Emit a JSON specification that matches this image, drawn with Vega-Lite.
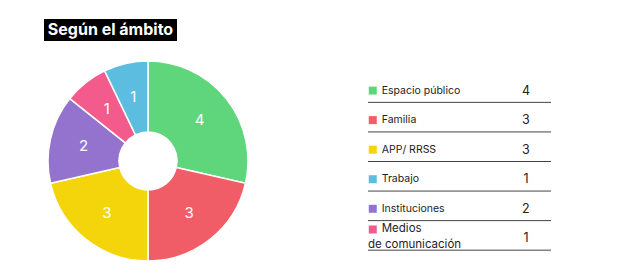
{
  "$schema": "https://vega.github.io/schema/vega-lite/v6.json",
  "padding": {"left": 44, "top": 19, "right": 0, "bottom": 0},
  "background": "white",
  "config": {"view": {"stroke": null}, "font": "Inter"},
  "datasets": {
    "ambitos": [
      {"ambito": "Espacio público", "casos": 4, "linea1": "Espacio público", "linea2": ""},
      {"ambito": "Familia", "casos": 3, "linea1": "Familia", "linea2": ""},
      {"ambito": "APP/ RRSS", "casos": 3, "linea1": "APP/ RRSS", "linea2": ""},
      {"ambito": "Instituciones", "casos": 2, "linea1": "Instituciones", "linea2": ""},
      {"ambito": "Medios de comunicación", "casos": 1, "linea1": "Medios", "linea2": "de comunicación"},
      {"ambito": "Trabajo", "casos": 1, "linea1": "Trabajo", "linea2": ""}
    ]
  },
  "vconcat": [
    {
      "width": 133,
      "height": 22,
      "view": {"fill": "#000000", "stroke": null},
      "data": {"values": [{"titulo": "Según el ámbito"}]},
      "mark": {"type": "text", "color": "white", "fontSize": 16, "fontWeight": "bold", "font": "Inter", "baseline": "middle", "align": "center"},
      "encoding": {"text": {"field": "titulo", "type": "nominal"}}
    },
    {
      "spacing": 115,
      "hconcat": [
        {
          "width": 208,
          "height": 200,
          "data": {"name": "ambitos"},
          "encoding": {
            "theta": {"field": "casos", "type": "quantitative", "stack": true},
            "order": {"field": "casos", "type": "quantitative", "sort": "descending"}
          },
          "layer": [
            {
              "mark": {"type": "arc", "innerRadius": 29, "stroke": "white", "strokeWidth": 1.5},
              "encoding": {
                "color": {
                  "field": "ambito", "type": "nominal",
                  "scale": {
                    "domain": ["Espacio público", "Familia", "APP/ RRSS", "Instituciones", "Medios de comunicación", "Trabajo"],
                    "range": ["#5fd67c", "#f15d66", "#f4d40a", "#9473cf", "#f35b8c", "#5cbde0"]
                  },
                  "legend": null
                }
              }
            },
            {
              "mark": {"type": "text", "radius": 66, "fontSize": 15, "color": "white", "baseline": "middle"},
              "encoding": {
                "detail": {"field": "ambito", "type": "nominal"},
                "text": {"field": "casos", "type": "quantitative"}
              }
            }
          ]
        },
        {
          "width": 183,
          "height": 201,
          "data": {"name": "ambitos"},
          "layer": [
            {
              "mark": {"type": "rule", "color": "#444444", "strokeWidth": 1},
              "encoding": {
                "y": {"field": "ambito", "type": "nominal", "bandPosition": 1,
                      "sort": ["Espacio público", "Familia", "APP/ RRSS", "Trabajo", "Instituciones", "Medios de comunicación"],
                      "scale": {"paddingInner": 0, "paddingOuter": 0.4}, "axis": null}
              }
            },
            {
              "transform": [{"filter": "datum.linea2 == ''"}],
              "mark": {"type": "square", "size": 64, "opacity": 1, "filled": true},
              "encoding": {
                "y": {"field": "ambito", "type": "nominal", "bandPosition": 0.6,
                      "sort": ["Espacio público", "Familia", "APP/ RRSS", "Trabajo", "Instituciones", "Medios de comunicación"], "axis": null},
                "x": {"datum": 0.026, "type": "quantitative", "scale": {"domain": [0, 1]}, "axis": null},
                "color": {"field": "ambito", "type": "nominal", "legend": null}
              }
            },
            {
              "transform": [{"filter": "datum.linea2 != ''"}],
              "mark": {"type": "square", "size": 64, "opacity": 1, "filled": true},
              "encoding": {
                "y": {"field": "ambito", "type": "nominal", "bandPosition": 0.3,
                      "sort": ["Espacio público", "Familia", "APP/ RRSS", "Trabajo", "Instituciones", "Medios de comunicación"], "axis": null},
                "x": {"datum": 0.026, "type": "quantitative", "scale": {"domain": [0, 1]}, "axis": null},
                "color": {"field": "ambito", "type": "nominal", "legend": null}
              }
            },
            {
              "transform": [{"filter": "datum.linea2 == ''"}],
              "mark": {"type": "text", "align": "left", "baseline": "middle", "fontSize": 10.5, "color": "#222222"},
              "encoding": {
                "y": {"field": "ambito", "type": "nominal", "bandPosition": 0.6,
                      "sort": ["Espacio público", "Familia", "APP/ RRSS", "Trabajo", "Instituciones", "Medios de comunicación"], "axis": null},
                "x": {"datum": 0.075, "type": "quantitative", "scale": {"domain": [0, 1]}, "axis": null},
                "text": {"field": "linea1", "type": "nominal"}
              }
            },
            {
              "transform": [{"filter": "datum.linea2 != ''"}],
              "mark": {"type": "text", "align": "left", "baseline": "middle", "fontSize": 11.5, "color": "#222222"},
              "encoding": {
                "y": {"field": "ambito", "type": "nominal", "bandPosition": 0.3,
                      "sort": ["Espacio público", "Familia", "APP/ RRSS", "Trabajo", "Instituciones", "Medios de comunicación"], "axis": null},
                "x": {"datum": 0.075, "type": "quantitative", "scale": {"domain": [0, 1]}, "axis": null},
                "text": {"field": "linea1", "type": "nominal"}
              }
            },
            {
              "transform": [{"filter": "datum.linea2 != ''"}],
              "mark": {"type": "text", "align": "left", "baseline": "middle", "fontSize": 11.5, "color": "#222222"},
              "encoding": {
                "y": {"field": "ambito", "type": "nominal", "bandPosition": 0.81,
                      "sort": ["Espacio público", "Familia", "APP/ RRSS", "Trabajo", "Instituciones", "Medios de comunicación"], "axis": null},
                "x": {"datum": 0, "type": "quantitative", "scale": {"domain": [0, 1]}, "axis": null},
                "text": {"field": "linea2", "type": "nominal"}
              }
            },
            {
              "mark": {"type": "text", "align": "center", "baseline": "middle", "fontSize": 12.5, "color": "#222222"},
              "encoding": {
                "y": {"field": "ambito", "type": "nominal", "bandPosition": 0.6,
                      "sort": ["Espacio público", "Familia", "APP/ RRSS", "Trabajo", "Instituciones", "Medios de comunicación"], "axis": null},
                "x": {"datum": 0.863, "type": "quantitative", "scale": {"domain": [0, 1]}, "axis": null},
                "text": {"field": "casos", "type": "quantitative"}
              }
            }
          ]
        }
      ]
    }
  ],
  "spacing": 17
}
